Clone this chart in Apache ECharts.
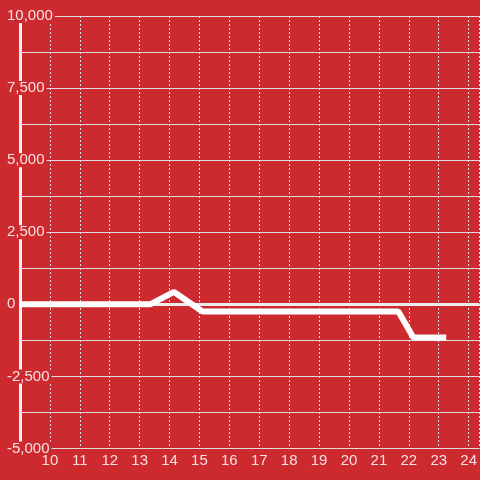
<!DOCTYPE html>
<html>
<head>
<meta charset="utf-8">
<script src="https://cdn.jsdelivr.net/npm/echarts@6/dist/echarts.min.js"></script>
<style>
  html, body { margin: 0; padding: 0; background: #cd2a2f; }
  #chart { width: 480px; height: 480px; }
</style>
</head>
<body>
<div id="chart"></div>
<script>
  // values
  let xValues = [9, 13.35, 14.15, 15.1, 21.65, 22.15, 23.25];
  let yValues = [0, 0, 430, -250, -250, -1150, -1150];

  let bg = '#cd2a2f';
  let labelColor = 'rgba(255,255,255,0.85)';

  let chart = echarts.init(document.getElementById('chart'));
  chart.setOption({
    backgroundColor: bg,
    animation: false,
    grid: {
      left: 20,
      right: -1,
      top: 16,
      bottom: 31.5
    },
    xAxis: {
      type: 'value',
      min: 9,
      max: 24.36,
      interval: 1,
      axisLine: { show: false },
      axisTick: { show: false },
      axisLabel: {
        color: labelColor,
        fontSize: 15,
        fontFamily: 'Liberation Sans',
        margin: 5,
        showMinLabel: false,
        showMaxLabel: false
      },
      splitLine: {
        show: true,
        lineStyle: { color: '#e2e2e2', width: 1, type: [2, 2] }
      }
    },
    yAxis: {
      type: 'value',
      min: -5000,
      max: 10000,
      interval: 2500,
      axisLine: {
        show: true,
        lineStyle: { color: '#f2f2f2', width: 3 }
      },
      axisTick: { show: false },
      axisLabel: {
        color: labelColor,
        fontSize: 15,
        fontFamily: 'Liberation Sans',
        align: 'left',
        margin: 13,
        backgroundColor: bg,
        padding: [0, 2, 0, 0],
        lineHeight: 14
      },
      splitLine: {
        show: true,
        lineStyle: { color: '#dcdcdc', width: 1 }
      },
      minorTick: { show: false, splitNumber: 2 },
      minorSplitLine: {
        show: true,
        lineStyle: { color: '#dcdcdc', width: 1 }
      }
    },
    series: [{
      type: 'line',
      data: xValues.map((x, i) => [x, yValues[i]]),
      symbol: 'none',
      lineStyle: { color: '#ffffff', width: 6 },
      markLine: {
        silent: true,
        symbol: 'none',
        label: { show: false },
        lineStyle: { color: '#ececec', width: 3, type: 'solid' },
        data: [{ yAxis: 0 }],
        z: 1
      }
    }]
  });
</script>
</body>
</html>
